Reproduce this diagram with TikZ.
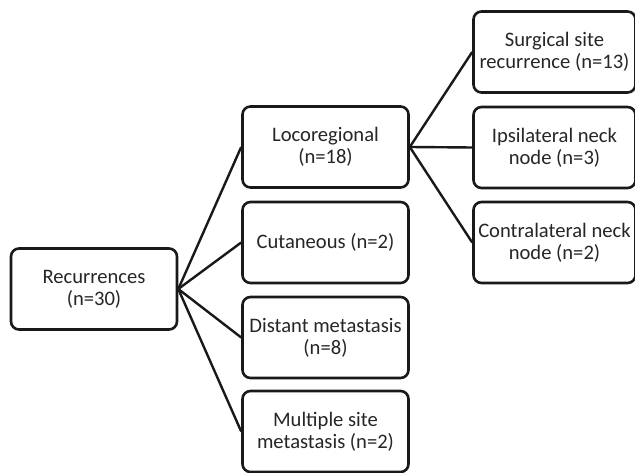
\documentclass[tikz,border=0pt]{standalone}
\usepackage{fontspec}
\setmainfont{Carlito}
\begin{document}
\begin{tikzpicture}[x=1pt,y=-1pt,
  box/.style={draw=black!90, line width=2.6pt, rounded corners=8pt, fill=white,
    minimum width=#1, minimum height=81pt, inner sep=0pt, align=center,
    font=\fontsize{20.6}{22}\selectfont, text=black!85},
  box/.default=166pt,
  link/.style={draw=black!90, line width=2.4pt}]
\useasboundingbox (0,0) rectangle (635,473);
\node[box] (rec) at (94,289) {Recurrences\\(n=30)};
\node[box] (loco) at (325.5,147) {Locoregional\\(n=18)};
\node[box] (cut) at (325.5,242.5) {Cutaneous (n=2)};
\node[box] (dist) at (325.5,337.5) {Distant metastasis\\(n=8)};
\node[box] (mult) at (325.5,431.5) {Multiple site\\metastasis (n=2)};
\node[box=162pt] (surg) at (554.5,52) {Surgical site\\recurrence (n=13)};
\node[box=162pt] (ipsi) at (554.5,147.5) {Ipsilateral neck\\node (n=3)};
\node[box=162pt] (contra) at (554.5,242.5) {Contralateral neck\\node (n=2)};
\foreach \t in {loco,cut,dist,mult} \draw[link] (rec.east) -- (\t.west);
\foreach \t in {surg,ipsi,contra} \draw[link] (loco.east) -- (\t.west);
\end{tikzpicture}
\end{document}
